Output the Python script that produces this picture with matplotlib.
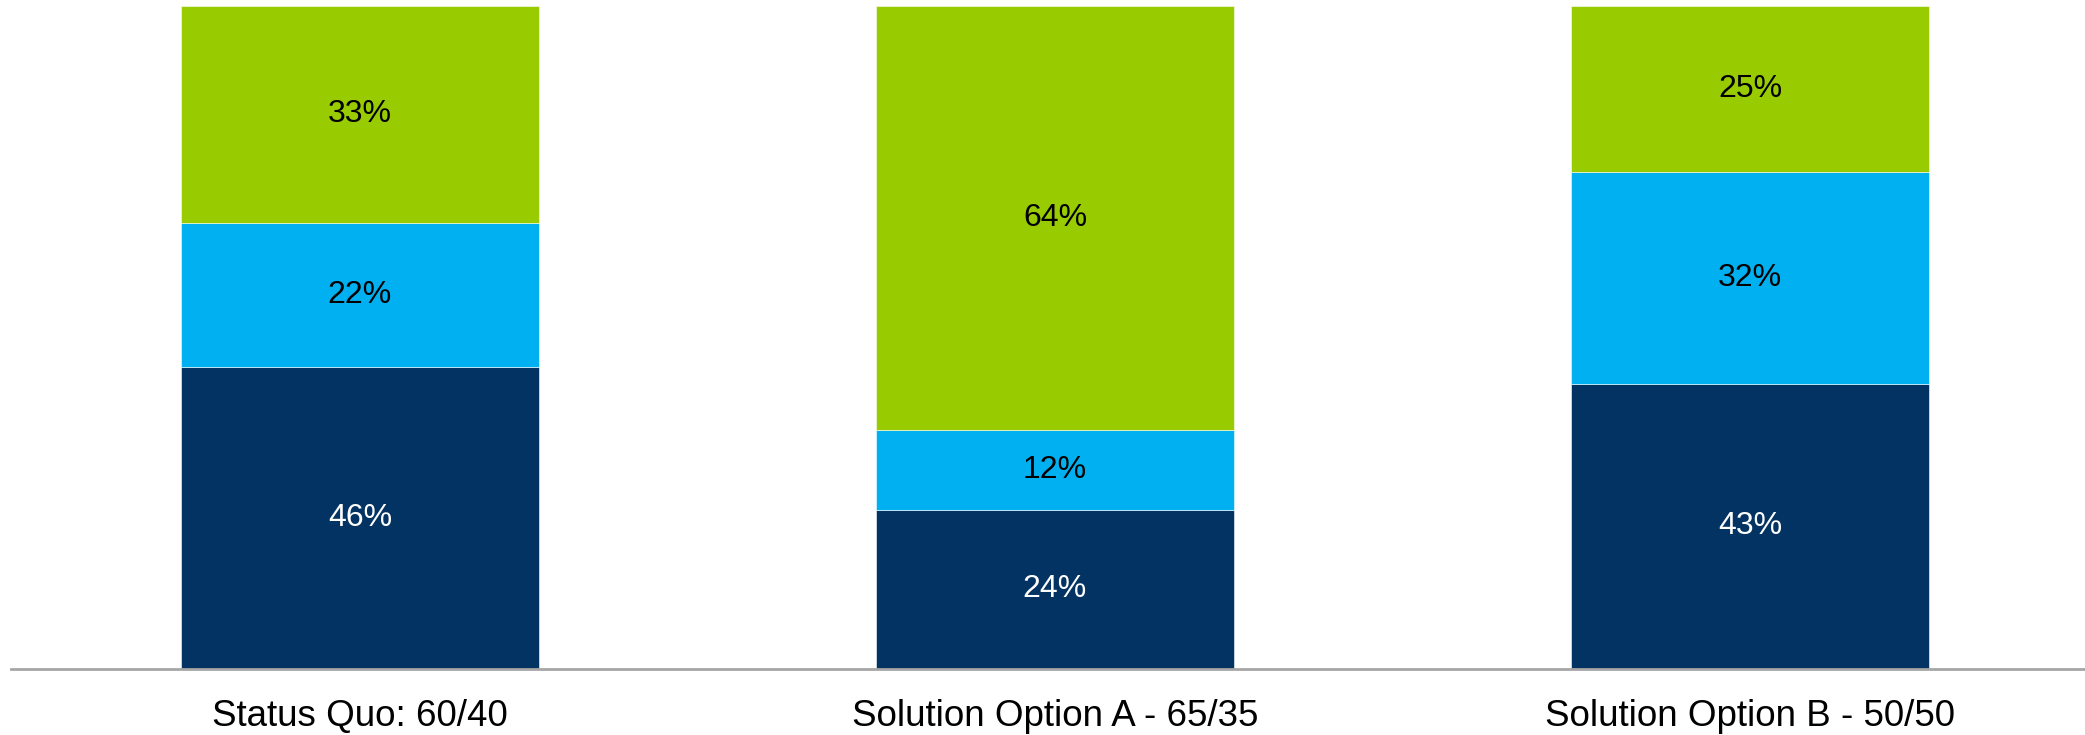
import matplotlib
matplotlib.use("Agg")
import matplotlib.pyplot as plt
import numpy as np

plt.rcParams["font.family"] = ["Liberation Sans", "DejaVu Sans"]

categories = ["Status Quo: 60/40", "Solution Option A - 65/35", "Solution Option B - 50/50"]
bottom_seg = [46, 24, 43]
middle_seg = [22, 12, 32]
top_seg = [33, 64, 25]

colors = ["#033363", "#00B0F0", "#99CC00"]
text_colors = ["white", "black", "black"]

# 100% stacked: normalise each column to its total
segs = np.array([bottom_seg, middle_seg, top_seg], dtype=float)
shares = segs / segs.sum(axis=0)

fig = plt.figure(figsize=(20.85, 7.35), dpi=100)
ax = fig.add_axes([0.0055, 0.0898, 0.9945, 0.902])

x = np.arange(len(categories))
base = np.zeros(len(categories))
for i in range(len(segs)):
    ax.bar(x, shares[i], bottom=base, width=0.514, color=colors[i],
           edgecolor="white", linewidth=0.4)
    for j in range(len(categories)):
        ax.text(x[j], base[j] + shares[i][j] / 2, f"{segs[i][j]:.0f}%",
                ha="center", va="center", fontsize=23, color=text_colors[i])
    base += shares[i]

ax.set_xlim(-0.5014, 2.482)
ax.set_ylim(0, 1)
ax.set_xticks(x)
ax.set_xticklabels(categories, fontsize=26.5)
ax.tick_params(axis="x", length=0, pad=21.5)
ax.set_yticks([])
for s in ["top", "left", "right"]:
    ax.spines[s].set_visible(False)
ax.spines["bottom"].set_color("#A6A6A6")
ax.spines["bottom"].set_linewidth(2)

fig.savefig("out.png", dpi=100)
